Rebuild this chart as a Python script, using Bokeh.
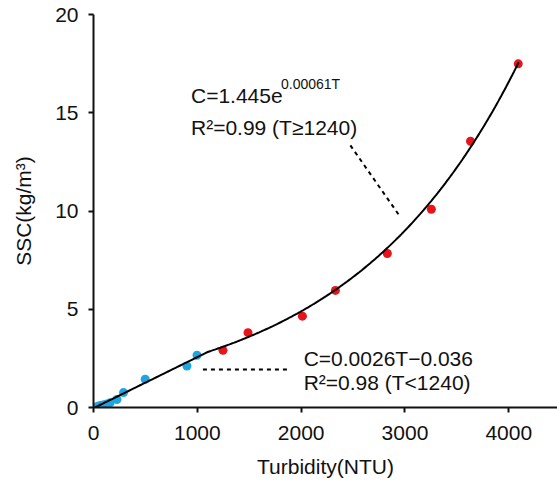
import numpy as np
from bokeh.plotting import figure
from bokeh.models import Range1d, FixedTicker
from bokeh.core.properties import value
from bokeh.embed import file_html
from bokeh.resources import INLINE

# ---- data ----
blue_T = [10, 30, 50, 70, 100, 130, 160, 226, 289, 498, 900, 997]
blue_C = [0.0, 0.04, 0.07, 0.10, 0.14, 0.18, 0.24, 0.41, 0.76, 1.44, 2.11, 2.66]
red_T = [1247, 1488, 2012, 2330, 2830, 3254, 3631, 4091]
red_C = [2.91, 3.81, 4.65, 5.96, 7.84, 10.09, 13.55, 17.49]

x_ticks = [0, 1000, 2000, 3000, 4000]
y_ticks = [0, 5, 10, 15, 20]

# fitted relations shown on the chart
lin_a, lin_b = 0.0026, -0.036      # C = a*T + b   (T < 1240)
exp_a, exp_k = 1.445, 0.00061      # C = a*exp(kT) (T >= 1240)
T_join = 1100                      # where the two drawn fits meet
T_end = 4095

FONT = "Liberation Sans"
FS = "21px"

p = figure(width=557, height=480, x_range=Range1d(0, 4469), y_range=Range1d(0, 20),
           output_backend="svg", toolbar_location=None,
           min_border_left=93, min_border_right=0, min_border_top=14, min_border_bottom=73)
p.outline_line_color = None
p.xgrid.visible = False
p.ygrid.visible = False
p.background_fill_color = "white"
p.border_fill_color = "white"

for ax in (p.xaxis[0], p.yaxis[0]):
    ax.axis_line_width = 2
    ax.axis_line_color = "#111111"
    ax.major_tick_line_width = 2
    ax.major_tick_line_color = "#111111"
    ax.major_tick_out = 5
    ax.major_tick_in = 0
    ax.minor_tick_line_color = None
    ax.major_label_text_font = FONT
    ax.major_label_text_font_size = FS
    ax.major_label_text_color = "#111111"
    ax.axis_label_text_font = FONT
    ax.axis_label_text_font_size = FS
    ax.axis_label_text_font_style = "normal"
    ax.axis_label_text_color = "#111111"

p.xaxis.major_label_standoff = 13
p.yaxis.major_label_standoff = 10
p.xaxis.ticker = FixedTicker(ticks=x_ticks)
p.yaxis.ticker = FixedTicker(ticks=y_ticks)
p.xaxis.axis_label = "Turbidity(NTU)"
p.yaxis.axis_label = "SSC(kg/m³)"
p.xaxis.axis_label_standoff = 12
p.yaxis.axis_label_standoff = 17

# points
p.scatter(blue_T, blue_C, size=9, fill_color="#1fa6e0", line_color=None)
p.scatter(red_T, red_C, size=9, fill_color="#e8141b", line_color=None)

# fit curves
T1 = np.linspace(0, T_join, 50)
T2 = np.linspace(T_join, T_end, 200)
Tc = np.concatenate([T1, T2])
Cc = np.concatenate([lin_a * T1 + lin_b, exp_a * np.exp(exp_k * T2)])
p.line(Tc, Cc, line_color="black", line_width=2)

# leader lines
p.line([2474, 2956], [13.34, 9.69], line_color="black", line_width=2, line_dash="4 4")
p.line([1054, 1896], [1.93, 1.93], line_color="black", line_width=2, line_dash="4 4")

# annotations
def txt(x, y, s, size=FS, xoff=0):
    p.text(x=[x], y=[y], text=[s], x_offset=xoff, text_font=value(FONT), text_font_size=size,
           text_color="#111111", text_align="left", text_baseline="alphabetic")

txt(939, 15.88, "C=1.445e")
txt(939, 16.47, "0.00061T", size="14px", xoff=90)
txt(939, 14.24, "R²=0.99 (T≥1240)")
txt(2024, 2.49, "C=0.0026T−0.036")
txt(2024, 1.25, "R²=0.98 (T<1240)")

open("out.html", "w").write(file_html(p, INLINE))
